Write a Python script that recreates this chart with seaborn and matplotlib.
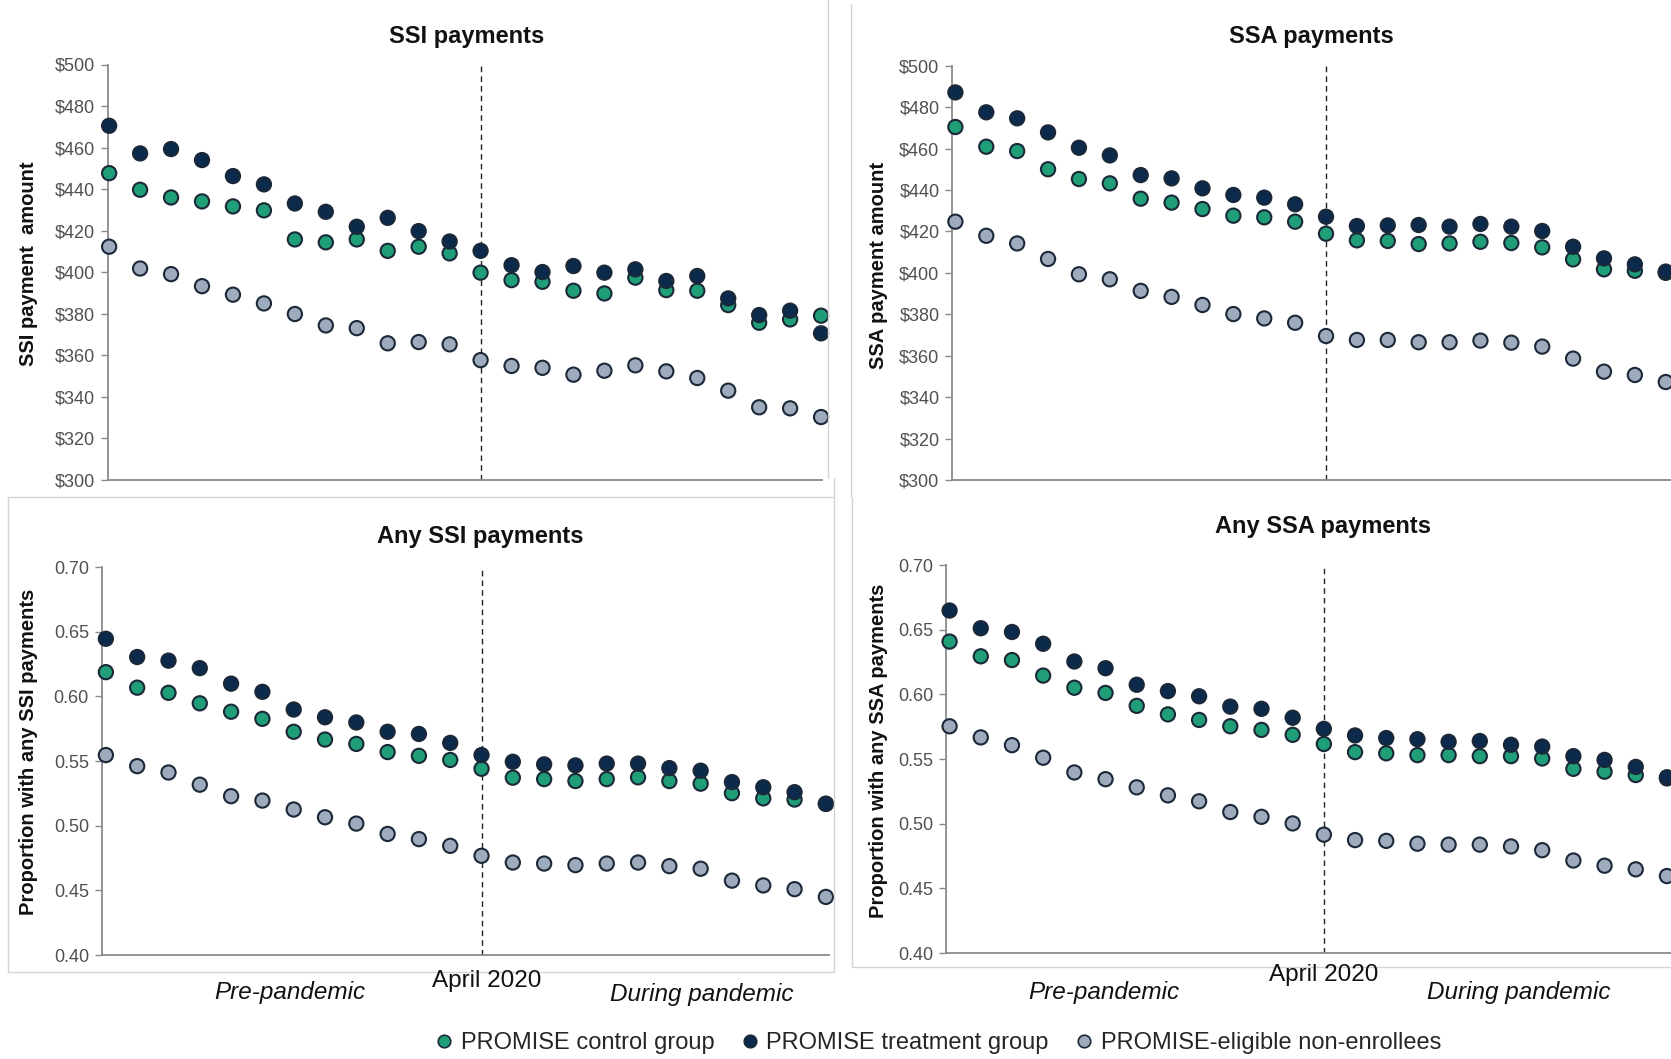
import numpy as np
import pandas as pd
import matplotlib
matplotlib.use("Agg")
import matplotlib.pyplot as plt
from matplotlib.lines import Line2D
from matplotlib.ticker import FuncFormatter
import seaborn as sns

sns.set_theme(style="white")
plt.rcParams['font.family'] = ['Liberation Sans', 'DejaVu Sans']

# ---- data (24 months, April 2020 = index 12) ----
months = list(range(24))
groups = ["PROMISE control group", "PROMISE treatment group", "PROMISE-eligible non-enrollees"]
colors = ["#1f9e78", "#0c2a4c", "#9eabbc"]

ssi_ctrl = [447.7, 439.7, 436.0, 434.1, 431.7, 429.8, 415.8, 414.4, 415.8, 410.3, 412.3, 409.1,
            399.8, 396.2, 395.4, 391.1, 389.8, 397.4, 391.4, 391.1, 384.2, 375.7, 377.3, 379.1]
ssi_treat = [470.5, 457.2, 459.3, 454.0, 446.3, 442.3, 433.1, 429.1, 421.9, 426.2, 419.8, 414.8,
             410.3, 403.4, 400.1, 403.0, 399.8, 401.4, 395.8, 398.2, 387.4, 379.4, 381.5, 370.6]
ssi_nonenr = [412.3, 401.8, 399.1, 393.3, 389.2, 385.0, 379.9, 374.4, 373.1, 365.8, 366.4, 365.3,
              357.7, 354.9, 354.0, 350.7, 352.6, 355.2, 352.3, 349.1, 343.0, 335.0, 334.5, 330.3]

ssa_ctrl = [470.4, 460.9, 458.8, 450.0, 445.3, 443.2, 435.8, 433.9, 430.8, 427.6, 426.8, 424.7,
            418.9, 415.7, 415.4, 413.9, 414.2, 415.0, 414.4, 412.3, 406.5, 401.7, 401.0, 400.0]
ssa_treat = [487.1, 477.5, 474.6, 467.8, 460.4, 456.7, 447.2, 445.6, 440.8, 437.6, 436.3, 433.1,
             427.1, 422.6, 422.9, 423.1, 422.3, 423.6, 422.3, 420.2, 412.6, 407.0, 404.1, 400.6]
ssa_nonenr = [424.7, 417.9, 414.2, 406.7, 399.3, 396.9, 391.3, 388.4, 384.5, 380.1, 378.0, 375.9,
              369.5, 367.6, 367.6, 366.5, 366.5, 367.3, 366.3, 364.4, 358.6, 352.3, 350.7, 347.3]

any_ssi_ctrl = [0.6187, 0.6067, 0.6027, 0.5946, 0.5881, 0.5826, 0.5726, 0.5666, 0.5632, 0.5569, 0.5540, 0.5508,
                0.5440, 0.5371, 0.5360, 0.5345, 0.5360, 0.5374, 0.5345, 0.5325, 0.5251, 0.5211, 0.5202, 0.5170]
any_ssi_treat = [0.6445, 0.6304, 0.6276, 0.6218, 0.6098, 0.6035, 0.5898, 0.5838, 0.5798, 0.5726, 0.5709, 0.5640,
                 0.5546, 0.5494, 0.5474, 0.5466, 0.5480, 0.5480, 0.5445, 0.5425, 0.5337, 0.5297, 0.5259, 0.5168]
any_ssi_nonenr = [0.5546, 0.5460, 0.5411, 0.5317, 0.5228, 0.5194, 0.5125, 0.5065, 0.5016, 0.4936, 0.4896, 0.4844,
                  0.4767, 0.4715, 0.4707, 0.4695, 0.4707, 0.4715, 0.4687, 0.4667, 0.4575, 0.4538, 0.4509, 0.4449]

any_ssa_ctrl = [0.6408, 0.6294, 0.6265, 0.6145, 0.6051, 0.6011, 0.5911, 0.5845, 0.5802, 0.5753, 0.5725, 0.5687,
                0.5616, 0.5553, 0.5544, 0.5530, 0.5530, 0.5522, 0.5522, 0.5504, 0.5424, 0.5402, 0.5376, 0.5350]
any_ssa_treat = [0.6648, 0.6511, 0.6482, 0.6391, 0.6254, 0.6202, 0.6074, 0.6025, 0.5985, 0.5905, 0.5888, 0.5819,
                 0.5733, 0.5682, 0.5662, 0.5653, 0.5633, 0.5639, 0.5610, 0.5596, 0.5522, 0.5493, 0.5439, 0.5359]
any_ssa_nonenr = [0.5753, 0.5667, 0.5607, 0.5510, 0.5396, 0.5344, 0.5281, 0.5219, 0.5173, 0.5090, 0.5053, 0.5002,
                  0.4915, 0.4873, 0.4867, 0.4845, 0.4838, 0.4838, 0.4824, 0.4795, 0.4715, 0.4675, 0.4647, 0.4595]

W, H = 1671, 1059
fig = plt.figure(figsize=(W / 100, H / 100), dpi=100)


def fx(px):
    return px / W


def fy(py):
    return 1 - py / H


def make_df(ctrl, treat, nonenr):
    parts = []
    for g, vals in zip(groups, [ctrl, treat, nonenr]):
        parts.append(pd.DataFrame({"month": months, "value": vals, "group": g}))
    return pd.concat(parts, ignore_index=True)


# panel specs: data, axes box in pixels (left, top, right, bottom), xlim, ylim, ticks, formatter
panels = [
    dict(data=(ssi_ctrl, ssi_treat, ssi_nonenr), box=(107.6, 64.5, 822, 480), xlim=(-0.05, 23.03),
         ylim=(300, 500), ticks=np.arange(300, 501, 20), fmt=lambda v, p: f"${v:.0f}",
         title="SSI payments", title_xy=(467, 37), ylabel="SSI payment  amount", ylabel_xy=(29, 264)),
    dict(data=(ssa_ctrl, ssa_treat, ssa_nonenr), box=(952, 65.7, 1671, 480), xlim=(-0.11, 23.17),
         ylim=(300, 500), ticks=np.arange(300, 501, 20), fmt=lambda v, p: f"${v:.0f}",
         title="SSA payments", title_xy=(1311, 37), ylabel="SSA payment amount", ylabel_xy=(878, 266)),
    dict(data=(any_ssi_ctrl, any_ssi_treat, any_ssi_nonenr), box=(101.5, 567, 829, 955), xlim=(-0.14, 23.1),
         ylim=(0.40, 0.70), ticks=np.arange(0.40, 0.701, 0.05), fmt=lambda v, p: f"{v:.2f}",
         title="Any SSI payments", title_xy=(480, 536), ylabel="Proportion with any SSI payments",
         ylabel_xy=(29, 752)),
    dict(data=(any_ssa_ctrl, any_ssa_treat, any_ssa_nonenr), box=(946, 565, 1671, 953), xlim=(-0.115, 23.13),
         ylim=(0.40, 0.70), ticks=np.arange(0.40, 0.701, 0.05), fmt=lambda v, p: f"{v:.2f}",
         title="Any SSA payments", title_xy=(1323, 527), ylabel="Proportion with any SSA payments",
         ylabel_xy=(878, 751)),
]

for p in panels:
    l, t, r, b = p["box"]
    ax = fig.add_axes([fx(l), fy(b), fx(r - l), (b - t) / H])
    df = make_df(*p["data"])
    sns.scatterplot(data=df, x="month", y="value", hue="group", palette=colors, hue_order=groups,
                    s=105, edgecolor="#1b2838", linewidth=1.5, legend=False, ax=ax,
                    clip_on=False, zorder=3)
    ax.axvline(12, color="#222222", linestyle=(0, (4, 3)), linewidth=1, zorder=1)
    ax.set_xlim(*p["xlim"])
    ax.set_ylim(*p["ylim"])
    ax.set_yticks(p["ticks"])
    ax.yaxis.set_major_formatter(FuncFormatter(p["fmt"]))
    ax.set_xticks([])
    ax.set_xlabel("")
    ax.set_ylabel("")
    for s in ["top", "right"]:
        ax.spines[s].set_visible(False)
    for s in ["left", "bottom"]:
        ax.spines[s].set_color("#8a8a8a")
        ax.spines[s].set_linewidth(1.3)
    ax.tick_params(axis="y", left=True, length=5, width=1, color="#8a8a8a",
                   labelsize=13, labelcolor="#505050", pad=4)
    ax.patch.set_alpha(0)
    fig.text(fx(p["title_xy"][0]), fy(p["title_xy"][1]), p["title"], ha="center", va="center",
             fontsize=17, fontweight="bold", color="#111111")
    fig.text(fx(p["ylabel_xy"][0]), fy(p["ylabel_xy"][1]), p["ylabel"], ha="center", va="center",
             rotation=90, fontsize=14.5, fontweight="bold", color="#111111")

# period labels under the bottom panels
for (ax_x, ay), (px, py), (dx, dy) in [((487, 981), (290, 993), (702, 994)),
                                       ((1324, 975), (1104, 992), (1519, 992))]:
    fig.text(fx(ax_x), fy(ay), "April 2020", ha="center", va="center", fontsize=17.5, color="#111111")
    fig.text(fx(px), fy(py), "Pre-pandemic", ha="center", va="center", fontsize=17.5,
             style="italic", color="#111111")
    fig.text(fx(dx), fy(dy), "During pandemic", ha="center", va="center", fontsize=17.5,
             style="italic", color="#111111")

# light chart frames
frame_kw = dict(color="#d4d4d4", linewidth=1)
segments = [
    ([828, 828], [0, 478]),
    ([851, 851], [4, 497]),
    ([8, 834, 834, 8, 8], [497, 497, 972, 972, 497]),
    ([834, 834], [478, 497]),
    ([852, 852, 1671], [497, 967, 967]),
]
for xs, ys in segments:
    fig.add_artist(Line2D([fx(v) for v in xs], [fy(v) for v in ys], **frame_kw))

handles = [Line2D([], [], marker="o", linestyle="", markersize=9, markerfacecolor=c,
                  markeredgecolor="#1b2838", markeredgewidth=1.2) for c in colors]
fig.legend(handles, groups, loc="center", bbox_to_anchor=(fx(938), fy(1043)), ncol=3,
           frameon=False, fontsize=17, handlelength=0.8, handletextpad=0.3, columnspacing=1.1)

fig.savefig("out.png", dpi=100)
